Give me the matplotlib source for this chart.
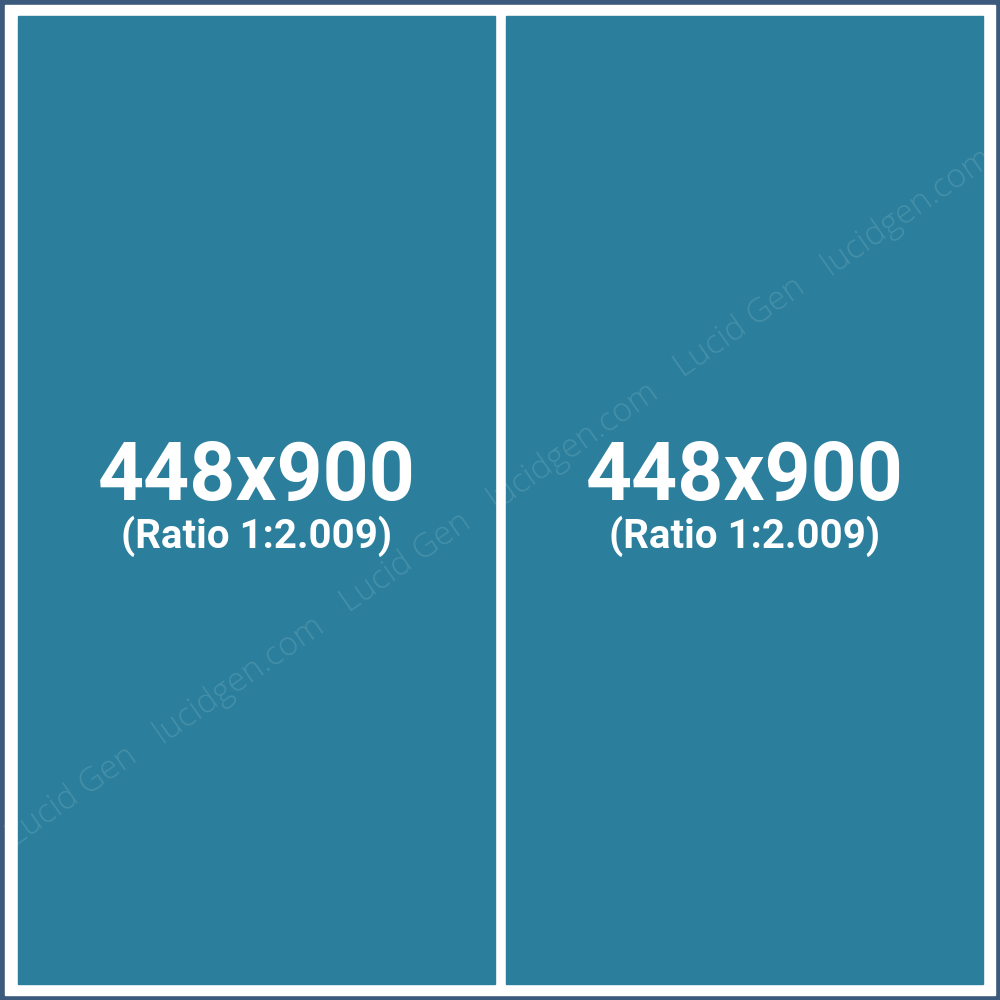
import numpy as np
import matplotlib.pyplot as plt
from matplotlib.patches import Rectangle

# panel contents
panel_sizes = ["448x900", "448x900"]
panel_ratios = ["(Ratio 1:2.009)", "(Ratio 1:2.009)"]
watermark_words = ["Lucid Gen", "lucidgen.com"]

border_color = "#3c5a7b"
panel_color = "#2b7f9c"

fig = plt.figure(figsize=(10, 10), dpi=100)
fig.patch.set_facecolor(border_color)
ax = fig.add_axes([0, 0, 1, 1])
ax.set_xlim(0, 1000)
ax.set_ylim(1000, 0)
ax.axis('off')

# white frame inside the dark border
frame = Rectangle((5, 5), 990, 990, color='white', zorder=1)
ax.add_patch(frame)

panels = [(18, 16, 477, 968), (506, 16, 477, 968)]
for (x, y, w, h), size, ratio in zip(panels, panel_sizes, panel_ratios):
    ax.add_patch(Rectangle((x, y), w, h, color=panel_color, zorder=2))
    cx = x + w / 2
    ax.text(cx, 500, size, color='white', fontsize=58, fontweight='bold',
            family='Roboto', ha='center', va='baseline', zorder=4)
    ax.text(cx, 548, ratio, color='white', fontsize=29, fontweight='bold',
            family='Roboto', ha='center', va='baseline', zorder=4)

# diagonal watermark, white over white so it only shows on the panels
ang = np.deg2rad(35)
ox, oy = 573, 445
step = 204
for k in range(-4, 4):
    word = watermark_words[1] if k % 2 == 0 else watermark_words[0]
    px = ox + k * step * np.cos(ang)
    py = oy - k * step * np.sin(ang)
    t = ax.text(px, py, word, color='white', alpha=0.13, fontsize=24,
                family='Open Sans', fontweight='light', rotation=35,
                rotation_mode='anchor', ha='center', va='center', zorder=3)
    t.set_clip_path(frame)

fig.savefig('out.png', dpi=100, facecolor=border_color)
